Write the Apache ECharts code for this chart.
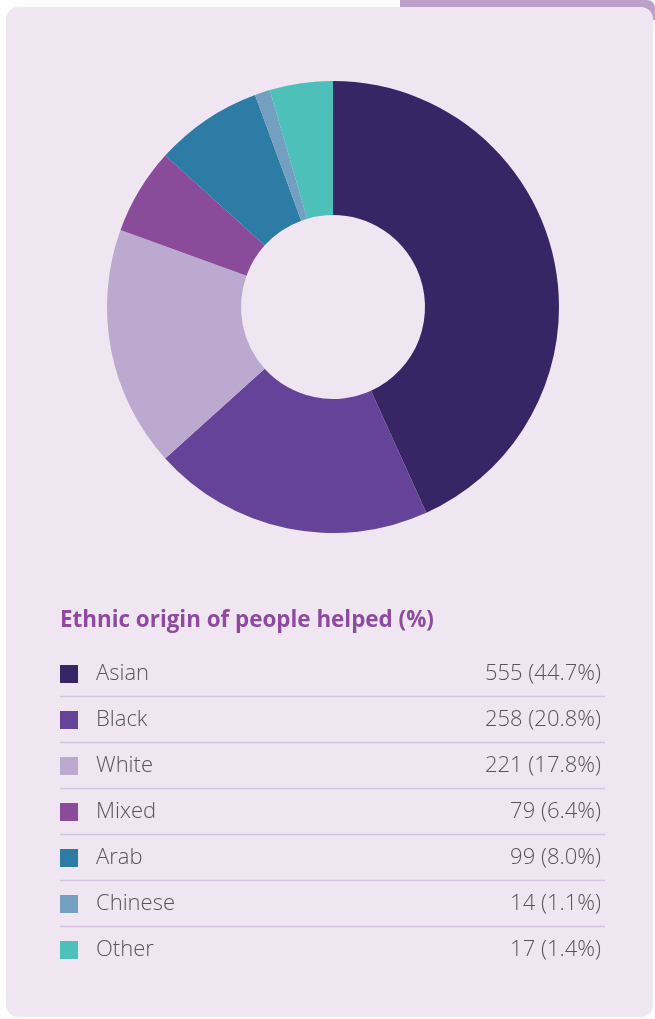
<!DOCTYPE html>
<html>
<head>
<meta charset="utf-8">
<script src="https://cdn.jsdelivr.net/npm/echarts@6/dist/echarts.min.js"></script>
<style>
  html, body { margin: 0; padding: 0; background: #ffffff; }
  #chart { width: 655px; height: 1019px; }
</style>
</head>
<body>
<div id="chart"></div>
<script>
// ---- data ----
var categories = ['Asian', 'Black', 'White', 'Mixed', 'Arab', 'Chinese', 'Other'];
var counts = [555, 258, 221, 79, 99, 14, 17];
var percents = ['44.7', '20.8', '17.8', '6.4', '8.0', '1.1', '1.4'];
// slice sizes as drawn in the picture (the "Other" slice is drawn larger than its listed count)
var sliceValues = [555, 258, 221, 79, 99, 14, 58];
var colors = ['#372566', '#654398', '#bca9cf', '#8a4b9b', '#2c7ca6', '#739fc1', '#4dc1b9'];
var titleText = 'Ethnic origin of people helped (%)';

var chart = echarts.init(document.getElementById('chart'), null, { renderer: 'canvas' });

var pieData = categories.map(function (c, i) {
  return { name: c, value: sliceValues[i], itemStyle: { color: colors[i] } };
});

var FONT = '"Open Sans", "Noto Sans", sans-serif';
var rowGap = 46;
var firstRowY = 672;

var graphics = [
  { type: 'rect', z: -10, shape: { x: 400, y: 0, width: 255, height: 20, r: [0, 8, 0, 0] }, style: { fill: '#bca0c9' } },
  { type: 'rect', z: -9, shape: { x: 6, y: 7, width: 647, height: 1010, r: 12 }, style: { fill: '#efe6f2' } },
  { type: 'text', z: 5, left: 60, top: 610, style: { text: titleText, fill: '#8e4a9e', font: 'bold 22.4px ' + FONT } }
];
for (var i = 0; i < categories.length - 1; i++) {
  var y = firstRowY + 24.5 + i * rowGap;
  graphics.push({ type: 'line', z: 5, shape: { x1: 60, y1: y, x2: 605, y2: y }, style: { stroke: '#d6c3e1', lineWidth: 1.5 } });
}

chart.setOption({
  backgroundColor: 'transparent',
  animation: false,
  graphic: graphics,
  legend: {
    orient: 'vertical',
    left: 60,
    top: firstRowY - 10,
    padding: 0,
    itemWidth: 18,
    itemHeight: 18,
    itemGap: rowGap - 24,
    icon: 'rect',
    selectedMode: false,
    data: categories,
    formatter: function (name) {
      var i = categories.indexOf(name);
      return '{n|' + name + '}{v|' + counts[i] + ' (' + percents[i] + '%)}';
    },
    textStyle: {
      fontFamily: FONT,
      rich: {
        n: { width: 150, padding: [0, 0, 0, 13], fontSize: 22, fontWeight: 300, height: 24, lineHeight: 24, color: '#555555', fontFamily: FONT },
        v: { width: 355, align: 'right', fontSize: 22, fontWeight: 300, height: 24, lineHeight: 24, color: '#555555', fontFamily: FONT }
      }
    }
  },
  series: [{
    type: 'pie',
    center: [333, 307],
    radius: [92, 226],
    startAngle: 90,
    clockwise: true,
    silent: true,
    label: { show: false },
    labelLine: { show: false },
    emphasis: { disabled: true },
    itemStyle: { borderWidth: 0 },
    data: pieData
  }]
});
</script>
</body>
</html>
